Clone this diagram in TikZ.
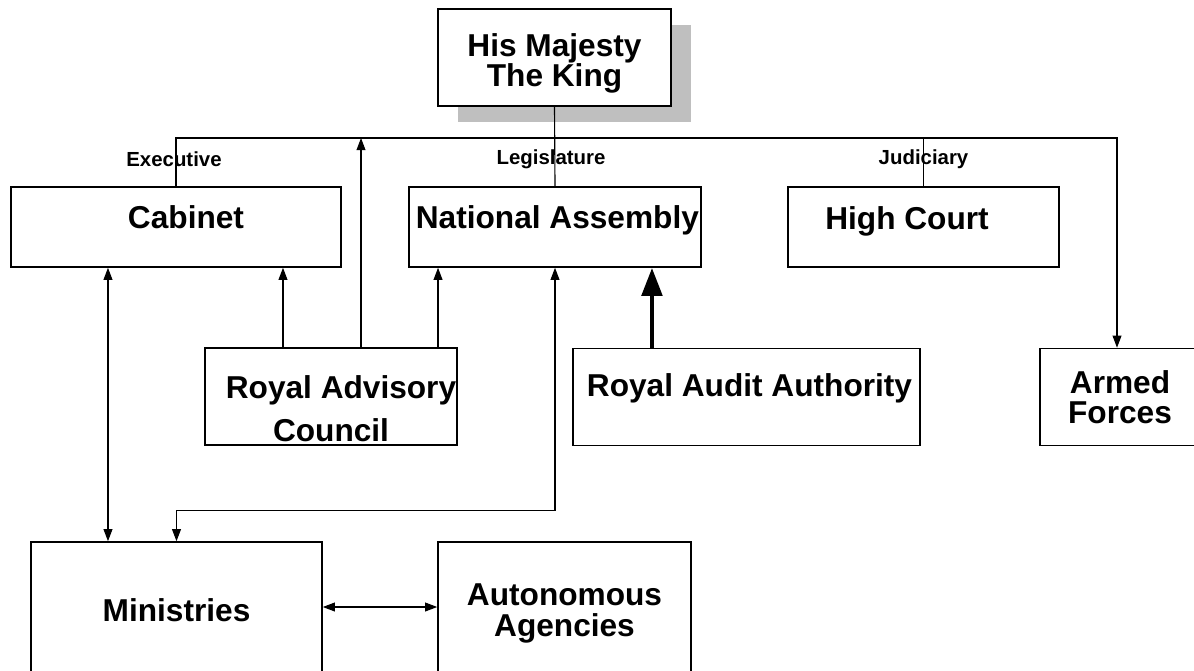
\documentclass[tikz,border=0pt]{standalone}
\usepackage{fontspec}
\setmainfont{Liberation Sans}
\usetikzlibrary{arrows.meta}
\usetikzlibrary{shadows}

\tikzset{
  unit/.style={draw, line width=1.1pt, fill=white, inner sep=0pt, align=center,
    font=\fontsize{22.5}{21.5}\selectfont\bfseries},
  raised/.style={text height=0.57cm, text depth=#1},
  branch/.style={font=\fontsize{14.5}{16}\selectfont\bfseries},
  link/.style={line width=0.8pt},
  tip/.style={-{Triangle[length=0.3cm,width=0.22cm]}},
  tips/.style={{Triangle[length=0.3cm,width=0.22cm]}-{Triangle[length=0.3cm,width=0.22cm]}},
}

\begin{document}
\begin{tikzpicture}[x=0.025cm, y=-0.025cm]
        \useasboundingbox (0, 0) rectangle (1194, 670);

        \node [unit, minimum width=5.825cm, minimum height=2.425cm,
          drop shadow={fill=gray!50, opacity=1, shadow xshift=0.5cm, shadow yshift=-0.4cm}]
          (king) at (554.5, 57.5) {\rule{0pt}{0.88cm}His Majesty\\The King};

        \node [unit, raised=0.5cm, minimum width=8.25cm, minimum height=2cm] (cabinet) at (176, 227) {\hspace*{0.5cm}Cabinet};
        \node [unit, raised=0.5cm, minimum width=7.3cm, minimum height=2cm] (na) at (555, 227) {\hspace*{0.12cm}National Assembly};
        \node [unit, raised=0.45cm, minimum width=6.775cm, minimum height=2cm] (hc) at (923.5, 227) {High Court\hspace*{0.825cm}};

        \node [unit, minimum width=6.3cm, minimum height=2.425cm,
          font=\fontsize{22.5}{30.6}\selectfont\bfseries] (rac) at (331, 396.5)
          {\rule{0pt}{1.18cm}\hspace*{0.5cm}Royal Advisory\\Council};
        \node [unit, raised=0.6cm, minimum width=8.675cm, minimum height=2.425cm] (audit) at (746.5, 397) {\hspace*{0.15cm}Royal Audit Authority};
        \node [unit, minimum width=4cm, minimum height=2.425cm] (armed) at (1120, 397) {Armed\\Forces};

        \node [unit, minimum width=7.275cm, minimum height=3.4cm] (ministries) at (176.5, 610) {Ministries};
        \node [unit, minimum width=6.325cm, minimum height=3.4cm] (agencies) at (564.5, 610) {\rule{0pt}{0.72cm}Autonomous\\Agencies};

        \coordinate (bus) at (555, 138);

        \node [branch] (executive) at (174, 159) {Executive};
        \node [branch] (legislature) at (551, 159) {Legislature};
        \node [branch] (judiciary) at (923.5, 159) {Judiciary};

        \draw [link] (king.south) -- (na.north);
        \draw [link, tip] (cabinet.north) |- (bus) -| ([xshift=-0.075cm]armed.north);
        \draw [link] (hc.north) -- (hc.north |- bus);

        \draw [link, tip] ([xshift=-1.2cm]rac.north) -- ([xshift=-1.2cm]rac.north |- cabinet.south);
        \draw [link, tip] ([xshift=0.75cm]rac.north) -- ([xshift=0.75cm]rac.north |- bus);
        \draw [link, tip] ([xshift=2.675cm]rac.north) -- ([xshift=2.675cm]rac.north |- na.south);

        \draw [line width=3.5pt, -{Triangle[length=0.7cm,width=0.5cm]}]
          ([xshift=-2.3625cm]audit.north) -- ([xshift=-2.3625cm]audit.north |- na.south);

        \draw [link, tips] ([xshift=-1.7cm]cabinet.south) -- ([xshift=-1.7cm]cabinet.south |- ministries.north);
        \draw [link, tips] (na.south) -- ++(0, 243) -| (ministries.north);
        \draw [link, tips] ([yshift=0.075cm]ministries.east) -- ([yshift=0.075cm]ministries.east -| agencies.west);
    \end{tikzpicture}
\end{document}
